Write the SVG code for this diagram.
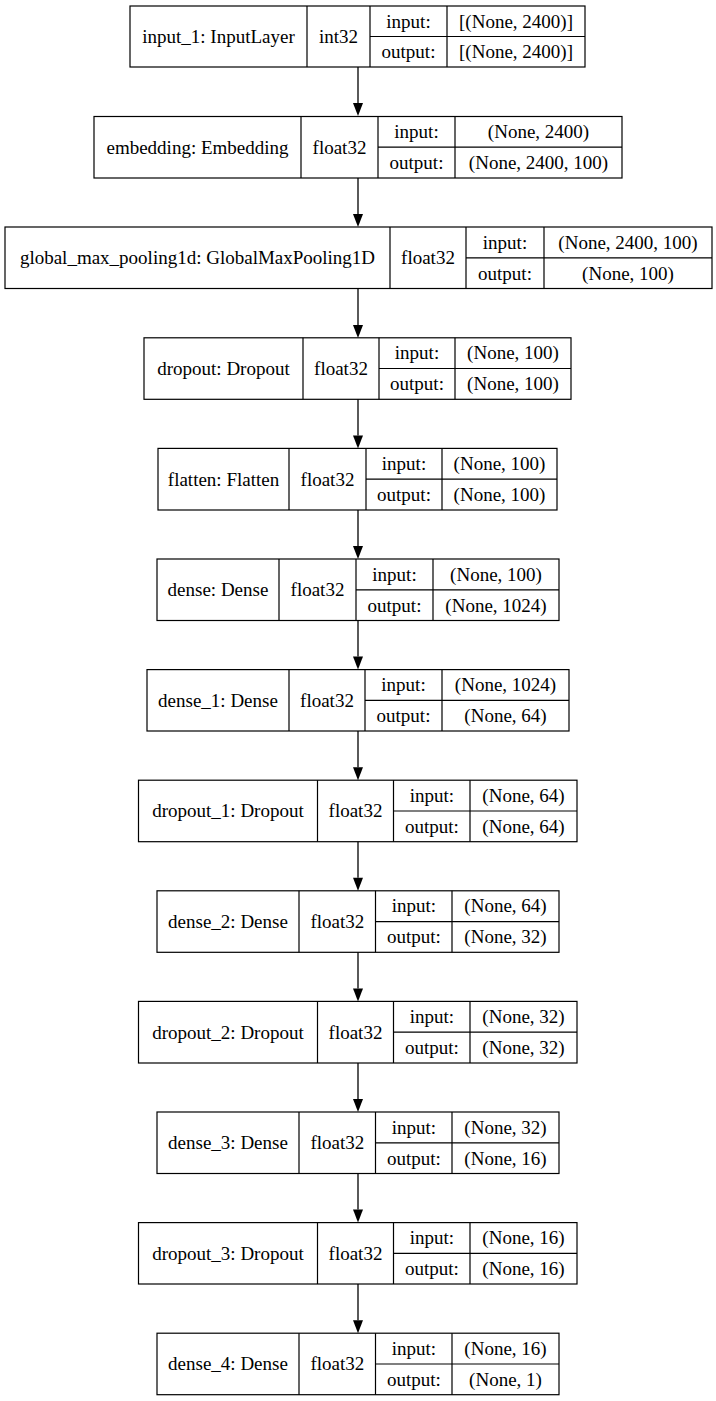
<svg xmlns="http://www.w3.org/2000/svg" width="716" height="1401" viewBox="0 0 716 1401">
<style>
.b{fill:none;stroke:#000;stroke-width:1.2}
.t{font-family:"Liberation Serif","Times New Roman",serif;font-size:19px;fill:#000;text-anchor:middle}
.e{stroke:#000;stroke-width:1.3;fill:none}
</style>
<defs>
<marker id="ah" viewBox="0 0 10 13" refX="5" refY="13" markerWidth="10" markerHeight="13" orient="auto-start-reverse" markerUnits="userSpaceOnUse">
<path d="M0,0 L10,0 L5,13 z" fill="#000" stroke="#000" stroke-width="1"/>
</marker>
</defs>
<rect width="716" height="1401" fill="#fff"/>
<g id="connectors">
<line class="e" x1="358" y1="67" x2="358" y2="103"/><polygon points="353,103 363,103 358,116" fill="#000"/>
<line class="e" x1="358" y1="178" x2="358" y2="214"/><polygon points="353,214 363,214 358,227" fill="#000"/>
<line class="e" x1="358" y1="288.5" x2="358" y2="325"/><polygon points="353,325 363,325 358,338" fill="#000"/>
<line class="e" x1="358" y1="399.3" x2="358" y2="435.4"/><polygon points="353,435.4 363,435.4 358,448.4" fill="#000"/>
<line class="e" x1="358" y1="510" x2="358" y2="546"/><polygon points="353,546 363,546 358,559" fill="#000"/>
<line class="e" x1="358" y1="620.5" x2="358" y2="656.6"/><polygon points="353,656.6 363,656.6 358,669.6" fill="#000"/>
<line class="e" x1="358" y1="731" x2="358" y2="767.2"/><polygon points="353,767.2 363,767.2 358,780.2" fill="#000"/>
<line class="e" x1="358" y1="841.7" x2="358" y2="877.8"/><polygon points="353,877.8 363,877.8 358,890.8" fill="#000"/>
<line class="e" x1="358" y1="952.3" x2="358" y2="988.4"/><polygon points="353,988.4 363,988.4 358,1001.4" fill="#000"/>
<line class="e" x1="358" y1="1063" x2="358" y2="1099"/><polygon points="353,1099 363,1099 358,1112" fill="#000"/>
<line class="e" x1="358" y1="1173.5" x2="358" y2="1209.6"/><polygon points="353,1209.6 363,1209.6 358,1222.6" fill="#000"/>
<line class="e" x1="358" y1="1284" x2="358" y2="1320.2"/><polygon points="353,1320.2 363,1320.2 358,1333.2" fill="#000"/>
</g>

<g id="input_1">
<rect class="b" x="130" y="6" width="455" height="61"/>
<path class="b" d="M307,6V67M370,6V67M447,6V67M370,36.5H585"/>
<text class="t" x="218.5" y="42.8">input_1: InputLayer</text>
<text class="t" x="338.5" y="42.8">int32</text>
<text class="t" x="408.5" y="27.5">input:</text>
<text class="t" x="516" y="27.5">[(None, 2400)]</text>
<text class="t" x="408.5" y="58.3">output:</text>
<text class="t" x="516" y="58.3">[(None, 2400)]</text>
</g>

<g id="embedding">
<rect class="b" x="94" y="116.5" width="528" height="61.5"/>
<path class="b" d="M301,116.5V178M378,116.5V178M455,116.5V178M378,147.2H622"/>
<text class="t" x="197.5" y="153.5">embedding: Embedding</text>
<text class="t" x="339.5" y="153.5">float32</text>
<text class="t" x="416.5" y="138">input:</text>
<text class="t" x="538.5" y="138">(None, 2400)</text>
<text class="t" x="416.5" y="169">output:</text>
<text class="t" x="538.5" y="169">(None, 2400, 100)</text>
</g>

<g id="global_max_pooling1d">
<rect class="b" x="5" y="227" width="707" height="61.5"/>
<path class="b" d="M390,227V288.5M466,227V288.5M544,227V288.5M466,257.8H712"/>
<text class="t" x="197.5" y="264">global_max_pooling1d: GlobalMaxPooling1D</text>
<text class="t" x="428" y="264">float32</text>
<text class="t" x="505" y="248.5">input:</text>
<text class="t" x="628" y="248.5">(None, 2400, 100)</text>
<text class="t" x="505" y="279.5">output:</text>
<text class="t" x="628" y="279.5">(None, 100)</text>
</g>

<g id="dropout">
<rect class="b" x="144" y="337.8" width="427" height="61.5"/>
<path class="b" d="M303,337.8V399.3M379,337.8V399.3M455,337.8V399.3M379,368.5H571"/>
<text class="t" x="223.5" y="374.8">dropout: Dropout</text>
<text class="t" x="341" y="374.8">float32</text>
<text class="t" x="417" y="359.3">input:</text>
<text class="t" x="513" y="359.3">(None, 100)</text>
<text class="t" x="417" y="390.3">output:</text>
<text class="t" x="513" y="390.3">(None, 100)</text>
</g>

<g id="flatten">
<rect class="b" x="158" y="448.4" width="399" height="61.6"/>
<path class="b" d="M289,448.4V510M366,448.4V510M442,448.4V510M366,479.2H557"/>
<text class="t" x="223.5" y="485.5">flatten: Flatten</text>
<text class="t" x="327.5" y="485.5">float32</text>
<text class="t" x="404" y="470">input:</text>
<text class="t" x="499.5" y="470">(None, 100)</text>
<text class="t" x="404" y="501">output:</text>
<text class="t" x="499.5" y="501">(None, 100)</text>
</g>

<g id="dense">
<rect class="b" x="157" y="559" width="402" height="61.5"/>
<path class="b" d="M279,559V620.5M356,559V620.5M433,559V620.5M356,589.8H559"/>
<text class="t" x="218" y="596">dense: Dense</text>
<text class="t" x="317.5" y="596">float32</text>
<text class="t" x="394.5" y="580.5">input:</text>
<text class="t" x="496" y="580.5">(None, 100)</text>
<text class="t" x="394.5" y="611.5">output:</text>
<text class="t" x="496" y="611.5">(None, 1024)</text>
</g>

<g id="dense_1">
<rect class="b" x="147" y="669.6" width="422" height="61.4"/>
<path class="b" d="M289,669.6V731M365,669.6V731M442,669.6V731M365,700.4H569"/>
<text class="t" x="218" y="706.7">dense_1: Dense</text>
<text class="t" x="327" y="706.7">float32</text>
<text class="t" x="403.5" y="691.2">input:</text>
<text class="t" x="505.5" y="691.2">(None, 1024)</text>
<text class="t" x="403.5" y="722.2">output:</text>
<text class="t" x="505.5" y="722.2">(None, 64)</text>
</g>

<g id="dropout_1">
<rect class="b" x="138.5" y="780.2" width="438.5" height="61.5"/>
<path class="b" d="M317.5,780.2V841.7M393.5,780.2V841.7M470,780.2V841.7M393.5,811H577"/>
<text class="t" x="228" y="817.3">dropout_1: Dropout</text>
<text class="t" x="355.5" y="817.3">float32</text>
<text class="t" x="431.8" y="801.8">input:</text>
<text class="t" x="523.5" y="801.8">(None, 64)</text>
<text class="t" x="431.8" y="832.8">output:</text>
<text class="t" x="523.5" y="832.8">(None, 64)</text>
</g>

<g id="dense_2">
<rect class="b" x="157" y="890.8" width="402" height="61.5"/>
<path class="b" d="M299,890.8V952.3M375.5,890.8V952.3M452,890.8V952.3M375.5,921.6H559"/>
<text class="t" x="228" y="927.9">dense_2: Dense</text>
<text class="t" x="337.3" y="927.9">float32</text>
<text class="t" x="413.8" y="912.4">input:</text>
<text class="t" x="505.5" y="912.4">(None, 64)</text>
<text class="t" x="413.8" y="943.4">output:</text>
<text class="t" x="505.5" y="943.4">(None, 32)</text>
</g>

<g id="dropout_2">
<rect class="b" x="138.5" y="1001.4" width="438.5" height="61.6"/>
<path class="b" d="M317.5,1001.4V1063M393.5,1001.4V1063M470,1001.4V1063M393.5,1032.2H577"/>
<text class="t" x="228" y="1038.5">dropout_2: Dropout</text>
<text class="t" x="355.5" y="1038.5">float32</text>
<text class="t" x="431.8" y="1023">input:</text>
<text class="t" x="523.5" y="1023">(None, 32)</text>
<text class="t" x="431.8" y="1054">output:</text>
<text class="t" x="523.5" y="1054">(None, 32)</text>
</g>

<g id="dense_3">
<rect class="b" x="157" y="1112" width="402" height="61.5"/>
<path class="b" d="M299,1112V1173.5M375.5,1112V1173.5M452,1112V1173.5M375.5,1142.8H559"/>
<text class="t" x="228" y="1149.1">dense_3: Dense</text>
<text class="t" x="337.3" y="1149.1">float32</text>
<text class="t" x="413.8" y="1133.6">input:</text>
<text class="t" x="505.5" y="1133.6">(None, 32)</text>
<text class="t" x="413.8" y="1164.6">output:</text>
<text class="t" x="505.5" y="1164.6">(None, 16)</text>
</g>

<g id="dropout_3">
<rect class="b" x="138.5" y="1222.6" width="438.5" height="61.4"/>
<path class="b" d="M317.5,1222.6V1284M393.5,1222.6V1284M470,1222.6V1284M393.5,1253.4H577"/>
<text class="t" x="228" y="1259.7">dropout_3: Dropout</text>
<text class="t" x="355.5" y="1259.7">float32</text>
<text class="t" x="431.8" y="1244.2">input:</text>
<text class="t" x="523.5" y="1244.2">(None, 16)</text>
<text class="t" x="431.8" y="1275.2">output:</text>
<text class="t" x="523.5" y="1275.2">(None, 16)</text>
</g>

<g id="dense_4">
<rect class="b" x="157" y="1333.2" width="402" height="61.5"/>
<path class="b" d="M299,1333.2V1394.7M375.5,1333.2V1394.7M452,1333.2V1394.7M375.5,1364H559"/>
<text class="t" x="228" y="1370.3">dense_4: Dense</text>
<text class="t" x="337.3" y="1370.3">float32</text>
<text class="t" x="413.8" y="1354.8">input:</text>
<text class="t" x="505.5" y="1354.8">(None, 16)</text>
<text class="t" x="413.8" y="1385.8">output:</text>
<text class="t" x="505.5" y="1385.8">(None, 1)</text>
</g>
</svg>
